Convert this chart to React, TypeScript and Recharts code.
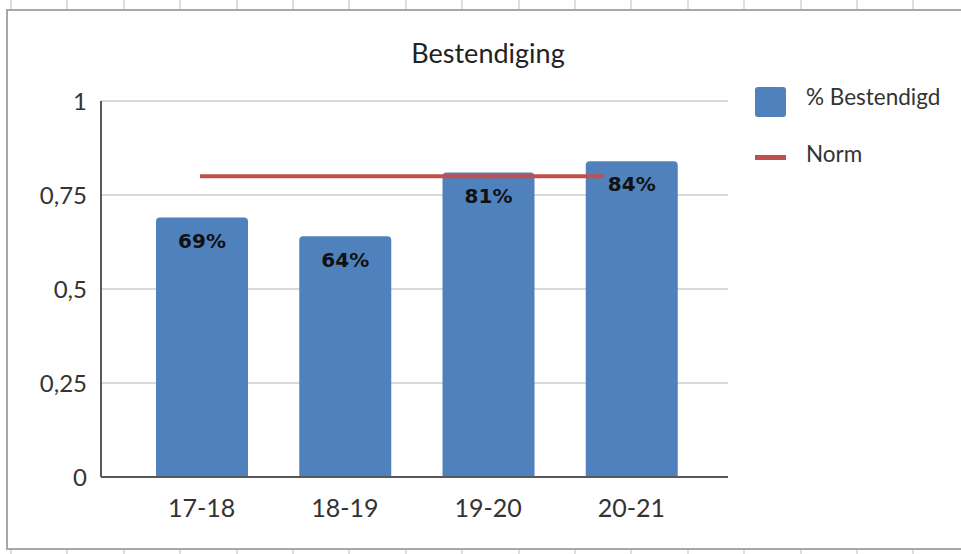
import { Bar, BarChart, CartesianGrid, LabelList, Line, XAxis, YAxis } from 'recharts';

const categories = ['17-18', '18-19', '19-20', '20-21'];
const bestendigd = [0.69, 0.64, 0.81, 0.84];
const norm = [0.8, 0.8, 0.8, 0.8];
const yTicks = [0, 0.25, 0.5, 0.75, 1];

const title = 'Bestendiging';
const barName = '% Bestendigd';
const lineName = 'Norm';

const barColor = '#4f81bd';
const lineColor = '#c0504d';
const textColor = '#333333';
const axisColor = '#595959';

const data = categories.map((cat, i) => ({
  cat,
  idx: i,
  bestendigd: bestendigd[i],
  norm: norm[i],
}));

const fmtTick = (v: number) => String(v).replace('.', ',');
const fmtPct = (v: number) => `${Math.round(Number(v) * 100)}%`;

export default function App() {
  return (
    <div
      style={{
        position: 'absolute',
        left: 0,
        top: 0,
        width: 961,
        height: 554,
        overflow: 'hidden',
        background: '#ffffff',
        backgroundImage:
          'repeating-linear-gradient(to right, transparent 0px, transparent 10px, #dedede 10px, #dedede 12px, transparent 12px, transparent 56.4px)',
        fontFamily: 'Lato, sans-serif',
      }}
    >
      {/* chart frame */}
      <div
        style={{
          position: 'absolute',
          left: 6,
          top: 9,
          width: 970,
          height: 537,
          border: '2px solid #a8a8a8',
          background: '#ffffff',
        }}
      />

      <div style={{ position: 'absolute', left: 0, top: 0 }}>
        <BarChart
          width={961}
          height={554}
          data={data}
          margin={{ top: 101, right: 233, left: 41, bottom: 47 }}
        >
          <CartesianGrid vertical={false} stroke="#d9d9d9" strokeWidth={2} />
          <XAxis
            dataKey="cat"
            padding={{ left: 29, right: 25 }}
            axisLine={{ stroke: axisColor, strokeWidth: 2 }}
            tickLine={false}
            tickSize={6}
            tickMargin={16}
            tick={{ fill: textColor, fontSize: 25, fontFamily: 'Lato' }}
            height={30}
          />
          <XAxis xAxisId="norm" dataKey="idx" type="number" domain={[-0.735, 3.921]} hide />
          <YAxis
            domain={[0, 1]}
            ticks={yTicks}
            tickFormatter={fmtTick}
            axisLine={{ stroke: axisColor, strokeWidth: 2 }}
            tickLine={false}
            tickSize={6}
            tickMargin={8}
            tick={{ fill: textColor, fontSize: 24, fontFamily: 'Lato' }}
            width={60}
          />
          <Bar dataKey="bestendigd" fill={barColor} barSize={92} radius={[4, 4, 0, 0]} isAnimationActive={false}>
            <LabelList
              dataKey="bestendigd"
              position="insideTop"
              offset={16}
              formatter={fmtPct}
              fill="#111111"
              fontSize={20}
              fontWeight="bold"
              fontFamily="DejaVu Sans"
            />
          </Bar>
          <Line
            xAxisId="norm"
            dataKey="norm"
            stroke={lineColor}
            strokeWidth={4}
            dot={false}
            activeDot={false}
            isAnimationActive={false}
          />
        </BarChart>
      </div>

      {/* title */}
      <div
        style={{
          position: 'absolute',
          left: 338,
          width: 300,
          top: 39,
          textAlign: 'center',
          fontSize: 27,
          lineHeight: '27px',
          color: '#222222',
        }}
      >
        {title}
      </div>

      {/* legend */}
      <div style={{ position: 'absolute', left: 755, top: 87, width: 31, height: 30, background: barColor, borderRadius: 3 }} />
      <div
        style={{
          position: 'absolute',
          left: 806,
          top: 86,
          fontSize: 22.5,
          lineHeight: '22.5px',
          color: textColor,
        }}
      >
        {barName}
      </div>
      <div style={{ position: 'absolute', left: 755, top: 155, width: 31, height: 5, background: lineColor }} />
      <div
        style={{
          position: 'absolute',
          left: 806,
          top: 143,
          fontSize: 22.5,
          lineHeight: '22.5px',
          color: textColor,
        }}
      >
        {lineName}
      </div>
    </div>
  );
}
